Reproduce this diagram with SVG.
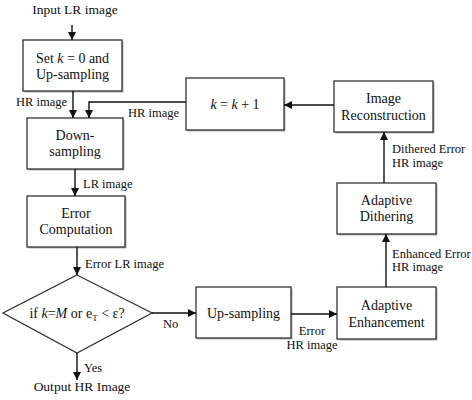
<svg xmlns="http://www.w3.org/2000/svg" width="472" height="400" viewBox="0 0 472 400">
<style>
text{fill:#111}
.n{font-size:14px;text-anchor:middle}
.l{font-size:12.5px}
.io{font-size:13.5px;text-anchor:middle}
.box{fill:#fff;stroke:#333;stroke-width:1.3}
.sh{fill:#b0b0b0}
.c{fill:none;stroke:#111;stroke-width:1.4}
</style>
<defs>
<marker id="ah" viewBox="0 0 10 10" refX="10" refY="5" markerWidth="8" markerHeight="8" markerUnits="userSpaceOnUse" orient="auto">
<path d="M0,0 L10,5 L0,10 z" fill="#111"/>
</marker>
</defs>
<rect width="472" height="400" fill="#fff"/>

<g id="input"><text class="io" font-family="'Liberation Serif', serif" x="75" y="14">Input LR image</text></g>

<g id="set">
<rect class="sh" x="24.5" y="41.5" width="99" height="51"/>
<rect class="box" x="23" y="40" width="99" height="51"/>
<text class="n" font-family="'Liberation Serif', serif" x="72.5" y="63">Set <tspan font-style="italic">k</tspan> = 0 and</text>
<text class="n" font-family="'Liberation Serif', serif" x="72.5" y="79">Up-sampling</text>
</g>

<g id="down">
<rect class="sh" x="28.5" y="119.5" width="96" height="51"/>
<rect class="box" x="27" y="118" width="96" height="51"/>
<text class="n" font-family="'Liberation Serif', serif" x="75" y="140">Down-</text>
<text class="n" font-family="'Liberation Serif', serif" x="75" y="156">sampling</text>
</g>

<g id="err">
<rect class="sh" x="28.5" y="197.5" width="98" height="51"/>
<rect class="box" x="27" y="196" width="98" height="51"/>
<text class="n" font-family="'Liberation Serif', serif" x="76" y="218">Error</text>
<text class="n" font-family="'Liberation Serif', serif" x="76" y="234">Computation</text>
</g>

<g id="decision">
<polygon points="77,275 152,313 77,353 3,313" fill="#fff" stroke="#333" stroke-width="1.3"/>
<text class="n" font-family="'Liberation Serif', serif" x="77" y="318">if <tspan font-style="italic">k</tspan>=<tspan font-style="italic">M</tspan> or e<tspan font-size="9" dy="3">T</tspan><tspan dy="-3"> &lt; ε?</tspan></text>
</g>

<g id="output"><text class="io" font-family="'Liberation Serif', serif" x="82" y="391">Output HR Image</text></g>

<g id="kinc">
<rect class="sh" x="187.5" y="79.5" width="98" height="52"/>
<rect class="box" x="186" y="78" width="98" height="52"/>
<text class="n" font-family="'Liberation Serif', serif" x="235" y="109"><tspan font-style="italic">k</tspan> = <tspan font-style="italic">k</tspan> + 1</text>
</g>

<g id="recon">
<rect class="sh" x="335.5" y="82.5" width="99" height="51"/>
<rect class="box" x="334" y="81" width="99" height="51"/>
<text class="n" font-family="'Liberation Serif', serif" x="383.5" y="103">Image</text>
<text class="n" font-family="'Liberation Serif', serif" x="383.5" y="120">Reconstruction</text>
</g>

<g id="dither">
<rect class="sh" x="338.5" y="184.5" width="99" height="51"/>
<rect class="box" x="337" y="183" width="99" height="51"/>
<text class="n" font-family="'Liberation Serif', serif" x="386.5" y="205">Adaptive</text>
<text class="n" font-family="'Liberation Serif', serif" x="386.5" y="221">Dithering</text>
</g>

<g id="enh">
<rect class="sh" x="338.5" y="288.5" width="99" height="52"/>
<rect class="box" x="337" y="287" width="99" height="52"/>
<text class="n" font-family="'Liberation Serif', serif" x="386.5" y="310">Adaptive</text>
<text class="n" font-family="'Liberation Serif', serif" x="386.5" y="327">Enhancement</text>
</g>

<g id="upsamp">
<rect class="sh" x="197.5" y="288.5" width="95" height="51"/>
<rect class="box" x="196" y="287" width="95" height="51"/>
<text class="n" font-family="'Liberation Serif', serif" x="243.5" y="318">Up-sampling</text>
</g>

<g id="connectors">
<line class="c" x1="72" y1="25" x2="72" y2="40" marker-end="url(#ah)"/>
<line class="c" x1="73" y1="91" x2="73" y2="118" marker-end="url(#ah)"/>
<polyline class="c" points="186,102 89,102 89,118" marker-end="url(#ah)"/>
<line class="c" x1="75" y1="169" x2="75" y2="196" marker-end="url(#ah)"/>
<line class="c" x1="77" y1="247" x2="77" y2="275" marker-end="url(#ah)"/>
<line class="c" x1="152" y1="313" x2="196" y2="313" marker-end="url(#ah)"/>
<line class="c" x1="77" y1="353" x2="77" y2="380" marker-end="url(#ah)"/>
<line class="c" x1="291" y1="314" x2="337" y2="314" marker-end="url(#ah)"/>
<line class="c" x1="386" y1="287" x2="386" y2="234" marker-end="url(#ah)"/>
<line class="c" x1="384" y1="183" x2="384" y2="132" marker-end="url(#ah)"/>
<line class="c" x1="334" y1="105" x2="284" y2="105" marker-end="url(#ah)"/>
<text class="l" font-family="'Liberation Serif', serif" x="67" y="106" text-anchor="end">HR image</text>
<text class="l" font-family="'Liberation Serif', serif" x="128" y="117">HR image</text>
<text class="l" font-family="'Liberation Serif', serif" x="83" y="188">LR image</text>
<text class="l" font-family="'Liberation Serif', serif" x="85" y="268">Error LR image</text>
<text class="l" font-family="'Liberation Serif', serif" x="163" y="328">No</text>
<text class="l" font-family="'Liberation Serif', serif" x="84" y="372">Yes</text>
<text class="l" font-family="'Liberation Serif', serif" x="312" y="335" text-anchor="middle">Error</text>
<text class="l" font-family="'Liberation Serif', serif" x="312" y="349" text-anchor="middle">HR image</text>
<text class="l" font-family="'Liberation Serif', serif" x="392" y="258">Enhanced Error</text>
<text class="l" font-family="'Liberation Serif', serif" x="392" y="271">HR image</text>
<text class="l" font-family="'Liberation Serif', serif" x="392" y="153">Dithered Error</text>
<text class="l" font-family="'Liberation Serif', serif" x="392" y="167">HR image</text>
</g>
</svg>
